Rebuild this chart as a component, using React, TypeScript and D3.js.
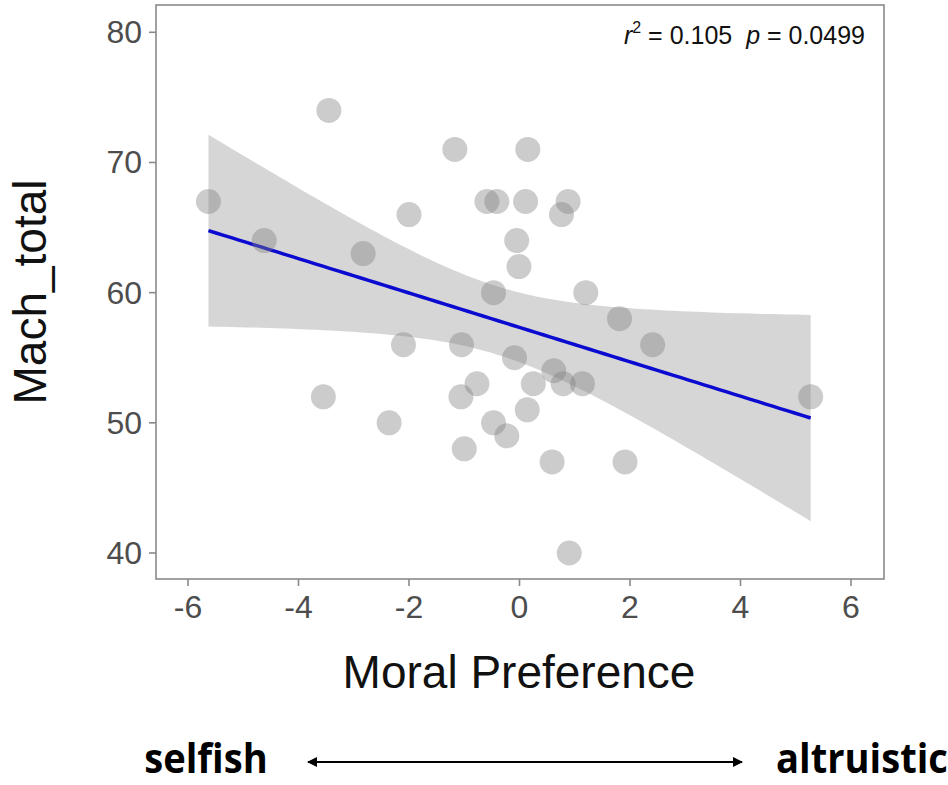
import * as d3 from 'd3';

const moralPref = [
  -3.45, -5.63, -4.62, -2.0, -2.83, -2.1, -3.55, -2.36,
  -1.17, 0.15, -0.59, -0.41, 0.11, 0.88, 0.76, -0.05, -0.01, -0.47, 1.2, 1.81, 2.41,
  -1.05, -0.09, 0.62, -0.77, 0.25, 0.79, 1.14, -1.06, 0.14, -0.47, -0.23, -1.0, 0.59, 1.91, 0.9, 5.27,
];
const machTotal = [
  74, 67, 64, 66, 63, 56, 52, 50,
  71, 71, 67, 67, 67, 67, 66, 64, 62, 60, 60, 58, 56,
  56, 55, 54, 53, 53, 53, 53, 52, 51, 50, 49, 48, 47, 47, 40, 52,
];
const xTicks = [-6, -4, -2, 0, 2, 4, 6];
const yTicks = [40, 50, 60, 70, 80];

const W = 948;
const H = 785;
const panel = { left: 156, right: 884, top: 5, bottom: 579 };

// least squares fit + 95% confidence band (like geom_smooth(method = "lm"))
function fitLm(xs: number[], ys: number[]) {
  const n = xs.length;
  const mx = d3.mean(xs)!;
  const my = d3.mean(ys)!;
  let sxx = 0, sxy = 0;
  xs.forEach((x, i) => { sxx += (x - mx) ** 2; sxy += (x - mx) * (ys[i] - my); });
  const b = sxy / sxx;
  const a = my - b * mx;
  let sse = 0;
  xs.forEach((x, i) => { sse += (ys[i] - a - b * x) ** 2; });
  const s = Math.sqrt(sse / (n - 2));
  const t = 2.03; // qt(0.975, 35)
  const [lo, hi] = d3.extent(xs) as [number, number];
  const grid = d3.range(80).map(i => lo + (hi - lo) * i / 79);
  return grid.map(x => {
    const fit = a + b * x;
    const se = s * Math.sqrt(1 / n + (x - mx) ** 2 / sxx);
    return { x, fit, lower: fit - t * se, upper: fit + t * se };
  });
}

export default function App() {
  const x = d3.scaleLinear().domain([-6, 6]).range([188, 851]);
  const y = d3.scaleLinear().domain([40, 80]).range([553, 32.3]);
  const band = fitLm(moralPref, machTotal);

  const area = d3.area<{ x: number; lower: number; upper: number }>()
    .x(d => x(d.x))
    .y0(d => y(d.lower))
    .y1(d => y(d.upper));
  const line = d3.line<{ x: number; fit: number }>()
    .x(d => x(d.x))
    .y(d => y(d.fit));

  const axisColor = '#8a8a8a';
  const tickText = '#4d4d4d';
  const font = '"Liberation Sans", Arial, sans-serif';
  const boldFont = '"Open Sans", "Noto Sans", sans-serif';

  return (
    <svg width={W} height={H} style={{ position: 'absolute', left: 0, top: 0, background: '#fff' }}>
      <defs>
        <marker id="arrowEnd" viewBox="0 0 10 10" refX="9" refY="5" markerWidth="5" markerHeight="5" orient="auto-start-reverse">
          <path d="M0,0 L10,5 L0,10 z" fill="#000" />
        </marker>
      </defs>
      <rect x={0} y={0} width={W} height={H} fill="#fff" />

      {/* confidence band and fit */}
      <path d={area(band) ?? ''} fill="#999999" fillOpacity={0.4} />
      <path d={line(band) ?? ''} fill="none" stroke="#0a0ad0" strokeWidth={3.5} />

      {/* points */}
      <g>
        {moralPref.map((v, i) => (
          <circle key={i} cx={x(v)} cy={y(machTotal[i])} r={12.5} fill="#7f7f7f" fillOpacity={0.4} />
        ))}
      </g>

      {/* panel border */}
      <rect x={panel.left} y={panel.top} width={panel.right - panel.left} height={panel.bottom - panel.top}
        fill="none" stroke={axisColor} strokeWidth={1.6} />

      {/* y axis */}
      <g fontFamily={font} fontSize={32} fill={tickText}>
        {yTicks.map(t => (
          <g key={t}>
            <line x1={panel.left - 7} x2={panel.left} y1={y(t)} y2={y(t)} stroke={axisColor} strokeWidth={1.6} />
            <text x={panel.left - 14} y={y(t)} textAnchor="end" dominantBaseline="central">{t}</text>
          </g>
        ))}
      </g>

      {/* x axis */}
      <g fontFamily={font} fontSize={32} fill={tickText}>
        {xTicks.map(t => (
          <g key={t}>
            <line x1={x(t)} x2={x(t)} y1={panel.bottom} y2={panel.bottom + 7} stroke={axisColor} strokeWidth={1.6} />
            <text x={x(t)} y={618} textAnchor="middle">{t}</text>
          </g>
        ))}
      </g>

      {/* stats annotation */}
      <text x={865} y={44} textAnchor="end" fontFamily={font} fontSize={25} fill="#111">
        <tspan fontStyle="italic">r</tspan>
        <tspan fontSize={16} dy={-11}>2</tspan>
        <tspan dy={11}>{'\u00a0=\u00a00.105\u00a0\u00a0'}</tspan>
        <tspan fontStyle="italic">p</tspan>
        <tspan>{'\u00a0=\u00a00.0499'}</tspan>
      </text>

      {/* axis titles */}
      <text transform={`translate(46, ${(panel.top + panel.bottom) / 2}) rotate(-90)`} textAnchor="middle"
        fontFamily={font} fontSize={46} fill="#111">Mach_total</text>
      <text x={519} y={688} textAnchor="middle" fontFamily={font} fontSize={46} fill="#111">Moral Preference</text>

      {/* selfish / altruistic */}
      <text transform="translate(206, 773) scale(0.93, 1)" textAnchor="middle" fontFamily={boldFont}
        fontWeight="bold" fontSize={41} fill="#000">selfish</text>
      <text transform="translate(862, 773) scale(0.93, 1)" textAnchor="middle" fontFamily={boldFont}
        fontWeight="bold" fontSize={41} fill="#000">altruistic</text>
      <line x1={308} x2={742} y1={762} y2={762} stroke="#000" strokeWidth={2}
        markerStart="url(#arrowEnd)" markerEnd="url(#arrowEnd)" />
    </svg>
  );
}
